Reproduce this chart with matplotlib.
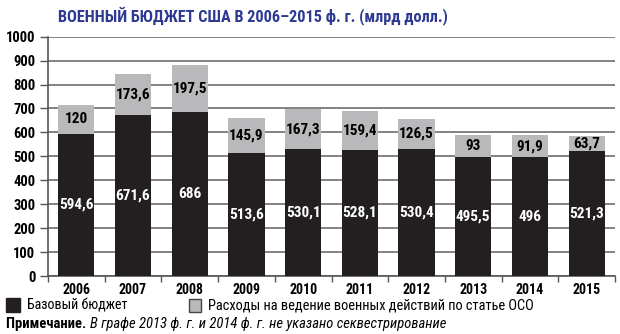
import matplotlib
matplotlib.use('Agg')
import matplotlib.pyplot as plt
from matplotlib import font_manager
from matplotlib.patches import Rectangle

years = ['2006', '2007', '2008', '2009', '2010', '2011', '2012', '2013', '2014', '2015']
base = [594.6, 671.6, 686, 513.6, 530.1, 528.1, 530.4, 495.5, 496, 521.3]
oco = [120, 173.6, 197.5, 145.9, 167.3, 159.4, 126.5, 93, 91.9, 63.7]

title = 'ВОЕННЫЙ БЮДЖЕТ США В 2006–2015 ф. г. (млрд долл.)'
legend_labels = ['Базовый бюджет', 'Расходы на ведение военных действий по статье ОСО']
note_bold = 'Примечание.'
note_text = 'В графе 2013 ф. г. и 2014 ф. г. не указано секвестрирование'

# prefer a narrow face if one is installed
available = {f.name for f in font_manager.fontManager.ttflist}
family = 'Liberation Sans'
for name in ['Liberation Sans Narrow', 'Roboto Condensed', 'Open Sans Condensed']:
    if name in available:
        family = name
        break
plt.rcParams['font.family'] = [family, 'DejaVu Sans']

dark = '#231f20'
grey = '#b9b9bb'
navy = '#2e3a92'

def fmt(v):
    return ('%g' % v).replace('.', ',')

fig = plt.figure(figsize=(6.2, 3.34), dpi=100)
ax = fig.add_axes([48 / 620, 1 - 276 / 334, 567 / 620, (276 - 36.7) / 334])

x = range(len(years))
ax.bar(x, base, width=0.64, color=dark, zorder=3)
ax.bar(x, oco, width=0.64, bottom=base, color=grey, zorder=3)

for i in x:
    ax.text(i, base[i] / 2, fmt(base[i]), ha='center', va='center',
            color='white', fontsize=11, fontweight='bold', zorder=4)
    ax.text(i, base[i] + oco[i] / 2, fmt(oco[i]), ha='center', va='center',
            color='black', fontsize=11, fontweight='bold', zorder=4)

ax.set_xlim(-0.5, 9.5)
ax.set_ylim(0, 1000)
ax.set_yticks(range(0, 1001, 100))
ax.set_xticks(list(x))
ax.set_xticklabels(years, fontsize=10, fontweight='bold')
ax.set_xticks([i + 0.5 for i in range(-1, 10)], minor=True)
for lbl in ax.get_yticklabels():
    lbl.set_fontsize(10.5)
    lbl.set_fontweight('bold')
ax.tick_params(axis='x', which='major', length=0, pad=5)
ax.tick_params(axis='x', which='minor', length=4, width=1, color='#555555', direction='out')
ax.tick_params(axis='y', length=6, width=1, color='#555555', pad=3)
ax.yaxis.grid(True, color='#6d6d6d', linewidth=1.2, zorder=0)
ax.set_axisbelow(True)
for side in ['top', 'right']:
    ax.spines[side].set_visible(False)
ax.spines['left'].set_color('#555555')
ax.spines['bottom'].set_color('#555555')
ax.spines['left'].set_linewidth(1.2)
ax.spines['bottom'].set_linewidth(1.2)

fig.text(253 / 620, 1 - 16 / 334, title, ha='center', va='center',
         fontsize=11.7, fontweight='bold', color=navy)

# legend squares and labels drawn in figure coordinates
fig.add_artist(Rectangle((6 / 620, 1 - 312 / 334), 14 / 620, 14 / 334,
                         transform=fig.transFigure, facecolor=dark, edgecolor=dark))
fig.text(27 / 620, 1 - 305 / 334, legend_labels[0], ha='left', va='center', fontsize=10.1)
fig.add_artist(Rectangle((189 / 620, 1 - 312 / 334), 12 / 620, 13 / 334,
                         transform=fig.transFigure, facecolor=grey, edgecolor='#444444', linewidth=1))
fig.text(208 / 620, 1 - 305 / 334, legend_labels[1], ha='left', va='center', fontsize=10.4)

t = fig.text(6 / 620, 1 - 324 / 334, note_bold + ' ', ha='left', va='center',
             fontsize=10.5, fontweight='bold')
fig.canvas.draw()
bb = t.get_window_extent()
fig.text(bb.x1 / 620, 1 - 324 / 334, note_text, ha='left', va='center',
         fontsize=10.5, fontstyle='italic')

fig.savefig('out.png', dpi=100)
